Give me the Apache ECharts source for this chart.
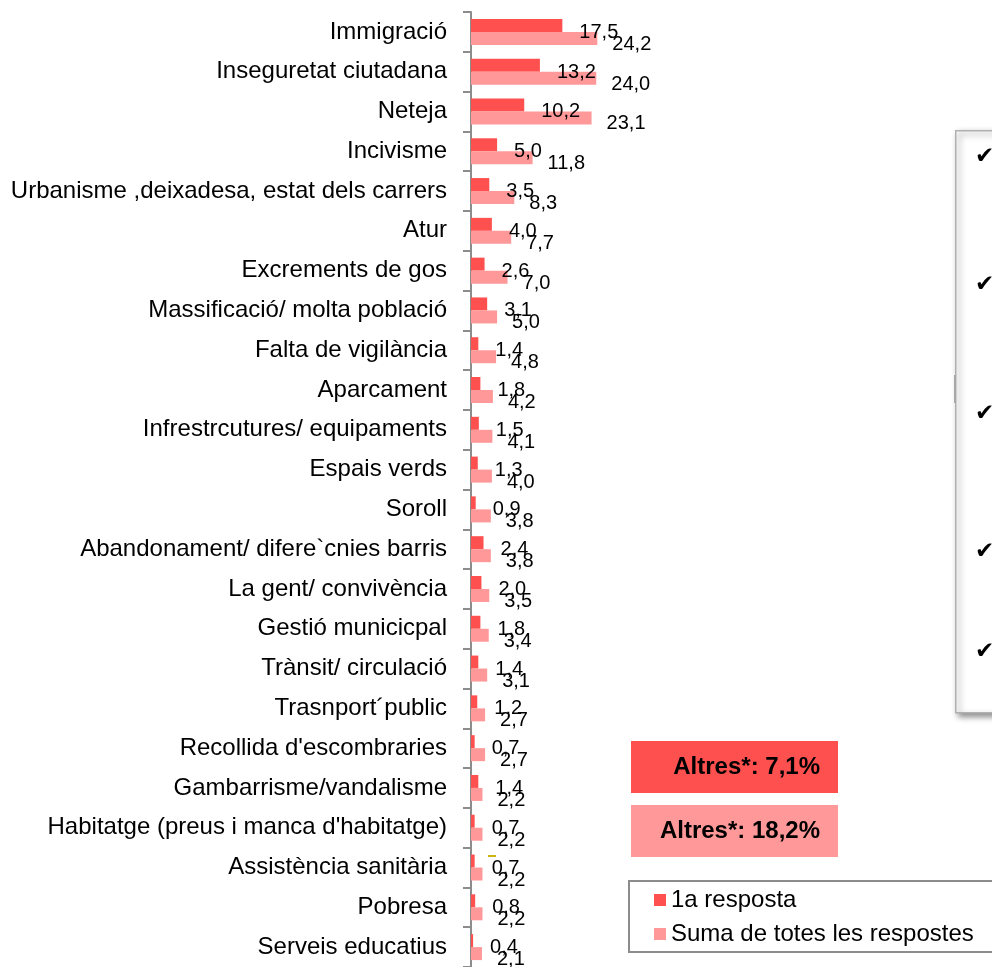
<!DOCTYPE html>
<html>
<head>
<meta charset="utf-8">
<script src="https://cdn.jsdelivr.net/npm/echarts@6/dist/echarts.min.js"></script>
<style>
    html, body {margin: 0; padding: 0; background: #fff;}
    #chart {width: 992px; height: 967px;}
</style>
</head>
<body>
<div id="chart"></div>
<script>
// categories from top to bottom
var categories = [
    'Immigració',
    'Inseguretat ciutadana',
    'Neteja',
    'Incivisme',
    'Urbanisme ,deixadesa, estat dels carrers',
    'Atur',
    'Excrements de gos',
    'Massificació/ molta població',
    'Falta de vigilància',
    'Aparcament',
    'Infrestrcutures/ equipaments',
    'Espais verds',
    'Soroll',
    'Abandonament/ difere`cnies barris',
    'La gent/ convivència',
    'Gestió municicpal',
    'Trànsit/ circulació',
    'Trasnport´public',
    'Recollida d\'escombraries',
    'Gambarrisme/vandalisme',
    'Habitatge (preus i manca d\'habitatge)',
    'Assistència sanitària',
    'Pobresa',
    'Serveis educatius'
];
var primeraResposta = [17.5, 13.2, 10.2, 5.0, 3.5, 4.0, 2.6, 3.1, 1.4, 1.8, 1.5, 1.3, 0.9, 2.4, 2.0, 1.8, 1.4, 1.2, 0.7, 1.4, 0.7, 0.7, 0.8, 0.4];
var sumaRespostes = [24.2, 24.0, 23.1, 11.8, 8.3, 7.7, 7.0, 5.0, 4.8, 4.2, 4.1, 4.0, 3.8, 3.8, 3.5, 3.4, 3.1, 2.7, 2.7, 2.2, 2.2, 2.2, 2.2, 2.1];
var seriesNames = ['1a resposta', 'Suma de totes les respostes'];
var altresTexts = ['Altres*: 7,1%', 'Altres*: 18,2%'];

var FONT = '"Liberation Sans", Arial, sans-serif';
var DARK = '#FF5050';
var LIGHT = '#FF9999';

function fmt(p) {
    return p.value.toFixed(1).replace('.', ',');
}

var myChart = echarts.init(document.getElementById('chart'), null, {renderer: 'canvas'});

var checkYs = [146, 274, 403, 541, 641];
var checks = checkYs.map(function (y) {
    return {type: 'text', left: 975, top: y, style: {text: '✔', fill: '#000', font: '23px "DejaVu Sans"'}};
});

var option = {
    animation: false,
    backgroundColor: '#fff',
    grid: {left: 471, top: 12, width: 261, height: 960},
    xAxis: {
        type: 'value',
        min: 0,
        max: 50,
        show: false
    },
    yAxis: {
        type: 'category',
        inverse: true,
        data: categories,
        axisLine: {show: true, lineStyle: {color: '#8c8c8c', width: 2}},
        axisTick: {show: true, length: 8, lineStyle: {color: '#8c8c8c', width: 2}},
        axisLabel: {
            margin: 24,
            color: '#000',
            fontFamily: FONT,
            fontSize: 24
        }
    },
    legend: {
        left: 629,
        top: 881,
        orient: 'vertical',
        data: seriesNames,
        icon: 'rect',
        itemWidth: 12,
        itemHeight: 12,
        itemGap: 10,
        borderColor: '#8c8c8c',
        borderWidth: 2,
        padding: [7, 40, 6, 25],
        textStyle: {color: '#000', fontFamily: FONT, fontSize: 24}
    },
    series: [
        {
            name: seriesNames[0],
            type: 'bar',
            data: primeraResposta,
            barWidth: 13,
            barGap: '0%',
            itemStyle: {color: DARK},
            label: {
                show: true,
                position: 'right',
                distance: 17,
                offset: [0, 7],
                formatter: fmt,
                color: '#000',
                fontFamily: FONT,
                fontSize: 20
            }
        },
        {
            name: seriesNames[1],
            type: 'bar',
            data: sumaRespostes,
            barWidth: 13,
            itemStyle: {color: LIGHT},
            label: {
                show: true,
                position: 'right',
                distance: 15,
                offset: [0, 6],
                formatter: fmt,
                color: '#000',
                fontFamily: FONT,
                fontSize: 20
            }
        }
    ],
    graphic: [
        // "Altres" boxes
        {type: 'rect', left: 631, top: 741, shape: {width: 207, height: 52}, style: {fill: DARK}},
        {type: 'rect', left: 631, top: 805, shape: {width: 207, height: 52}, style: {fill: LIGHT}},
        {type: 'text', right: 992 - 820, top: 755, style: {text: altresTexts[0], fill: '#000', font: 'bold 24px ' + FONT}},
        {type: 'text', right: 992 - 820, top: 819, style: {text: altresTexts[1], fill: '#000', font: 'bold 24px ' + FONT}},
        // cut off notes box on the right
        {
            type: 'rect', left: 955, top: 130, shape: {width: 60, height: 582},
            style: {
                fill: '#fff', stroke: '#b0b0b0', lineWidth: 1.5,
                shadowColor: 'rgba(0,0,0,0.45)', shadowBlur: 6, shadowOffsetX: 3, shadowOffsetY: 3
            }
        },
        {type: 'rect', left: 954, top: 375, shape: {width: 2, height: 28}, style: {fill: '#a8a8a8'}},
        // small stray mark
        {type: 'rect', left: 488, top: 855, shape: {width: 8, height: 2}, style: {fill: '#c8b414'}}
    ].concat(checks)
};

myChart.setOption(option);
</script>
</body>
</html>
